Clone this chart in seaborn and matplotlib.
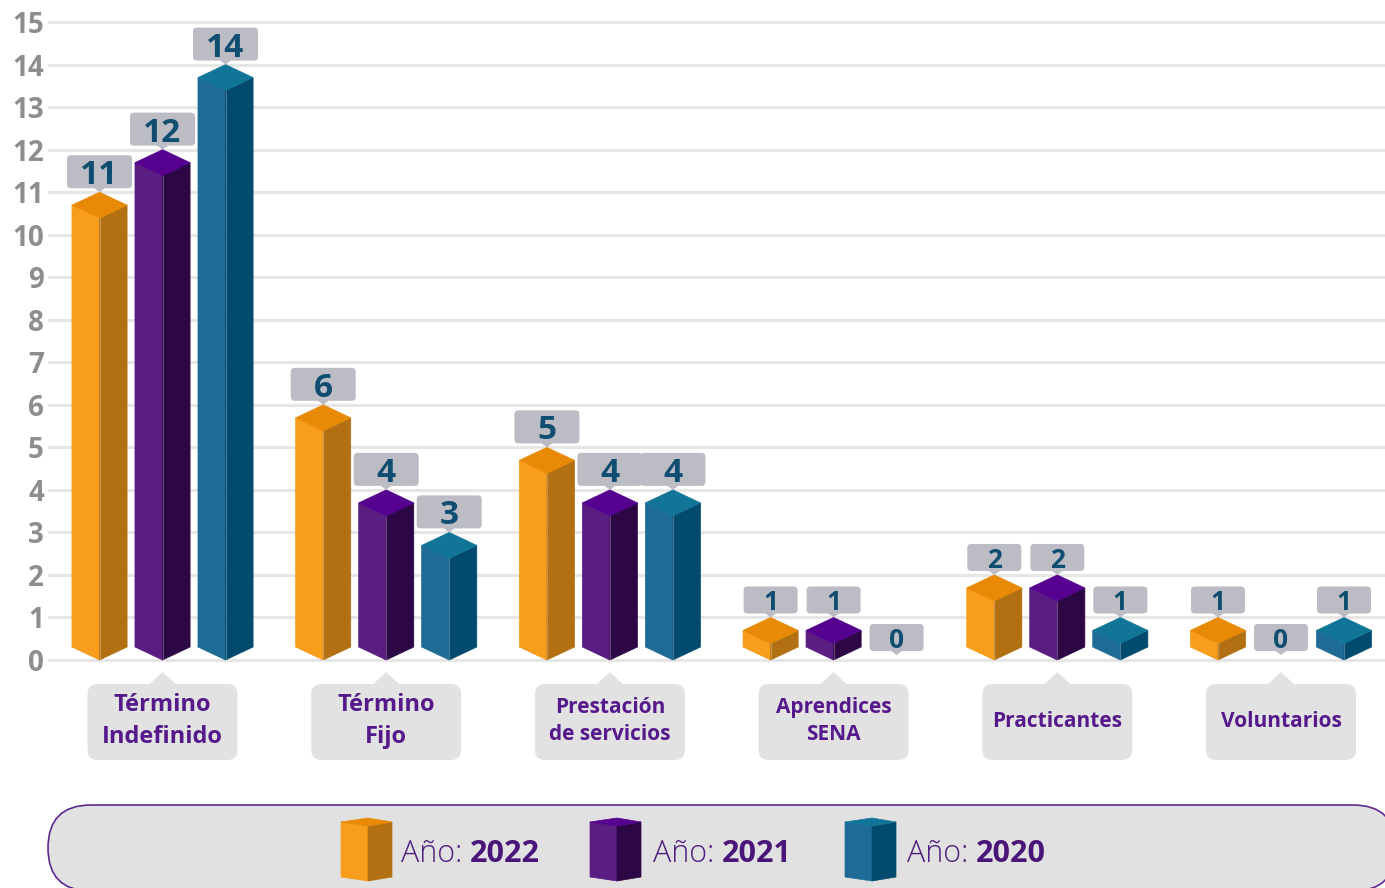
import numpy as np
import pandas as pd
import matplotlib
matplotlib.use("Agg")
import matplotlib.pyplot as plt
import seaborn as sns
from matplotlib.patches import Polygon, FancyBboxPatch

# ------------------------------------------
# DATA
# ------------------------------------------
categories = ["Término\nIndefinido", "Término\nFijo", "Prestación\nde servicios",
              "Aprendices\nSENA", "Practicantes", "Voluntarios"]
years = ["2022", "2021", "2020"]
vals_2022 = [11, 6, 5, 1, 2, 1]
vals_2021 = [12, 4, 4, 1, 2, 0]
vals_2020 = [14, 3, 4, 0, 1, 1]
y_ticks = list(range(0, 16))

# faces of the 3d bars, one colour per year
face_left = ["#F99D1C", "#5A1E82", "#1E6C96"]
face_right = ["#B37012", "#2D0745", "#034B6E"]
face_top = ["#E88A05", "#55008F", "#117597"]

df = pd.DataFrame({
    "categoria": categories * 3,
    "anio": np.repeat(years, len(categories)),
    "valor": vals_2022 + vals_2021 + vals_2020,
})

# ------------------------------------------
# FIGURE / AXES
# ------------------------------------------
W, H = 1385, 888
sns.set_theme(style="white")
plt.rcParams["font.family"] = ["Open Sans", "DejaVu Sans"]

fig = plt.figure(figsize=(W / 100, H / 100), dpi=100)
ax = fig.add_axes([48 / W, 0, (W - 48) / W, 1])

sns.barplot(data=df, x="categoria", y="valor", hue="anio",
            order=categories, hue_order=years, palette=face_left,
            width=0.845, gap=0.125, errorbar=None, legend=False, ax=ax)

px_unit = 42.53   # pixels per unit on the y axis
y0 = 660          # pixel row of the zero line
ax.set_ylim(-(H - y0) / px_unit, y0 / px_unit)
ax.set_xlim(-0.512, 5.465)
ax.set_yticks(y_ticks)
ax.set_xticks([])
ax.set_xlabel("")
ax.set_ylabel("")
ax.grid(axis="y", color="#E6E6E6", lw=2.2)
ax.set_axisbelow(True)
ax.tick_params(axis="y", length=0, pad=3, labelsize=20, labelcolor="#8E8E8E")
for lab in ax.get_yticklabels():
    lab.set_fontweight("bold")
sns.despine(ax=ax, left=True, bottom=True)
ax.patch.set_alpha(0)

# overlay in pixel coordinates for the boxes and the legend
ov = fig.add_axes([0, 0, 1, 1])
ov.set_xlim(0, W)
ov.set_ylim(H, 0)
ov.axis("off")
ov.patch.set_alpha(0)


def to_px(x, y):
    dx, dy = ax.transData.transform((x, y))
    return dx, H - dy


# ------------------------------------------
# 3D BARS + VALUE LABELS
# ------------------------------------------
d = 26 / px_unit
for k, cont in enumerate(ax.containers):
    for gi, bar in enumerate(cont.patches):
        bar.set_visible(False)
        v = bar.get_height()
        hw = bar.get_width() / 2
        cx = bar.get_x() + hw
        if v > 0:
            top = [(cx, v), (cx - hw, v - d / 2), (cx, v - d), (cx + hw, v - d / 2)]
            left = [(cx - hw, v - d / 2), (cx, v - d), (cx, 0), (cx - hw, d / 2)]
            right = [(cx, v - d), (cx + hw, v - d / 2), (cx + hw, d / 2), (cx, 0)]
            for pts, col in [(left, face_left[k]), (right, face_right[k]), (top, face_top[k])]:
                ax.add_patch(Polygon(pts, closed=True, fc=col, ec=col, lw=0.5, zorder=3))
            ax.plot([cx, cx], [0, v - d], color="white", alpha=0.25, lw=0.8, zorder=4)

        X, Y = to_px(cx, v)
        if gi < 3:
            bw, bh, fs = 65, 33, 24
        else:
            bw, bh, fs = 54, 27, 19
        tip = Y - (5 if v == 0 else 0)
        bottom = tip - 4
        ov.add_patch(FancyBboxPatch((X - bw / 2, bottom - bh), bw, bh,
                                    boxstyle="round,pad=0,rounding_size=4",
                                    fc="#BBBCC4", ec="none"))
        ov.add_patch(Polygon([(X - 6, bottom - 0.5), (X + 6, bottom - 0.5), (X, tip)],
                             closed=True, fc="#BBBCC4", ec="none"))
        ov.text(X, bottom - bh / 2, f"{int(v)}", ha="center", va="center_baseline",
                fontsize=fs, fontweight="bold", color="#0F4E70")

# ------------------------------------------
# CATEGORY BOXES
# ------------------------------------------
for gi, cat in enumerate(categories):
    X, _ = to_px(gi, 0)
    ov.add_patch(FancyBboxPatch((X - 75, 684), 150, 76,
                                boxstyle="round,pad=0,rounding_size=10",
                                fc="#E2E2E2", ec="none"))
    ov.add_patch(Polygon([(X - 14, 685), (X + 14, 685), (X, 672)],
                         closed=True, fc="#E2E2E2", ec="none"))
    ov.text(X, 721, cat, ha="center", va="center", fontsize=17 if gi < 2 else 15,
            fontweight="bold", color="#55198B", linespacing=1.4)

# ------------------------------------------
# LEGEND
# ------------------------------------------
ov.add_patch(FancyBboxPatch((48, 805), 1348, 86,
                            boxstyle="round,pad=0,rounding_size=43",
                            fc="#E1E1E1", ec="#5B2A8E", lw=1.2))

renderer = fig.canvas.get_renderer()
icon_x = [341, 590, 845]
text_x = [401, 653, 907]
for k, yr in enumerate(years):
    x0 = icon_x[k]
    x1 = x0 + 51
    mid = x0 + 27
    left = [(x0, 822), (mid, 826), (mid, 881), (x0, 877)]
    right = [(mid, 826), (x1, 822), (x1, 877), (mid, 881)]
    top = [(x0, 822), (mid, 818), (x1, 822), (mid, 826)]
    for pts, col in [(left, face_left[k]), (right, face_right[k]), (top, face_top[k])]:
        ov.add_patch(Polygon(pts, closed=True, fc=col, ec=col, lw=0.5))
    t = ov.text(text_x[k], 850, "Año:", ha="left", va="center_baseline",
                fontsize=22, fontweight="light", color="#4F1F7F")
    bb = t.get_window_extent(renderer)
    ov.text(bb.x1 + 8, 850, yr, ha="left", va="center_baseline",
            fontsize=22, fontweight="bold", color="#4A1578")

fig.savefig("out.png", dpi=100)
